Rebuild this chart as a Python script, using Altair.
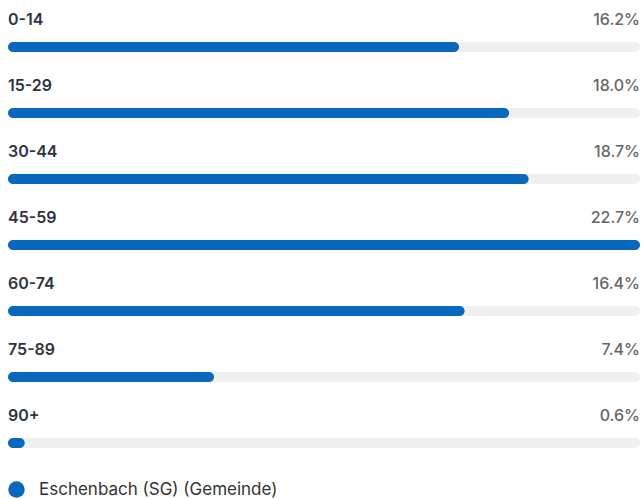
import altair as alt
import pandas as pd

groups = ["0-14", "15-29", "30-44", "45-59", "60-74", "75-89", "90+"]
shares = [16.2, 18.0, 18.7, 22.7, 16.4, 7.4, 0.6]
labels = ["16.2%", "18.0%", "18.7%", "22.7%", "16.4%", "7.4%", "0.6%"]
series = "Eschenbach (SG) (Gemeinde)"

top = max(shares)
df = pd.DataFrame({
    "group": groups,
    "share": shares,
    "label": labels,
    "track": [top] * len(groups),
    "zero": [0] * len(groups),
    "series": [series] * len(groups),
})

BLUE = "#0868BE"
FONT = "Inter"

y = alt.Y("group:N", sort=groups, axis=None,
          scale=alt.Scale(paddingInner=0, paddingOuter=0))
xs = alt.Scale(domain=[0, top], nice=False, zero=True)

base = alt.Chart(df)

track = base.mark_bar(color="#F0F0F0", cornerRadius=5, height=10).encode(
    x=alt.X("zero:Q", scale=xs, axis=None), x2="track:Q", y=y)

bars = base.mark_bar(cornerRadius=5, height=10).encode(
    x=alt.X("zero:Q", scale=xs, axis=None), x2="share:Q", y=y,
    color=alt.Color("series:N",
                    scale=alt.Scale(domain=[series], range=[BLUE]),
                    legend=alt.Legend(title=None, orient="none", legendX=0, legendY=467,
                                      symbolType="circle", symbolSize=270,
                                      symbolStrokeWidth=0,
                                      labelFont=FONT, labelFontSize=17,
                                      labelLimit=0,
                                      labelColor="#333333", labelOffset=14)))

names = base.mark_text(align="left", baseline="middle", dy=-27, font=FONT,
                       fontSize=16, fontWeight=600, color="#2E3440").encode(
    x=alt.X("zero:Q", scale=xs, axis=None), y=y, text="group:N")

pcts = base.mark_text(align="right", baseline="middle", dy=-27, font=FONT,
                      fontSize=16, fontWeight=500, color="#666666").encode(
    x=alt.X("track:Q", scale=xs, axis=None), y=y, text="label:N")

chart = alt.layer(track, bars, names, pcts).properties(
    width=632, height=462,
    autosize=alt.AutoSizeParams(type="none"),
    padding={"left": 8, "top": 14, "right": 1, "bottom": 23},
    background="white",
).configure_view(strokeWidth=0, stroke="transparent")

chart.save("out.html", embed_options={"renderer": "svg", "actions": False})
